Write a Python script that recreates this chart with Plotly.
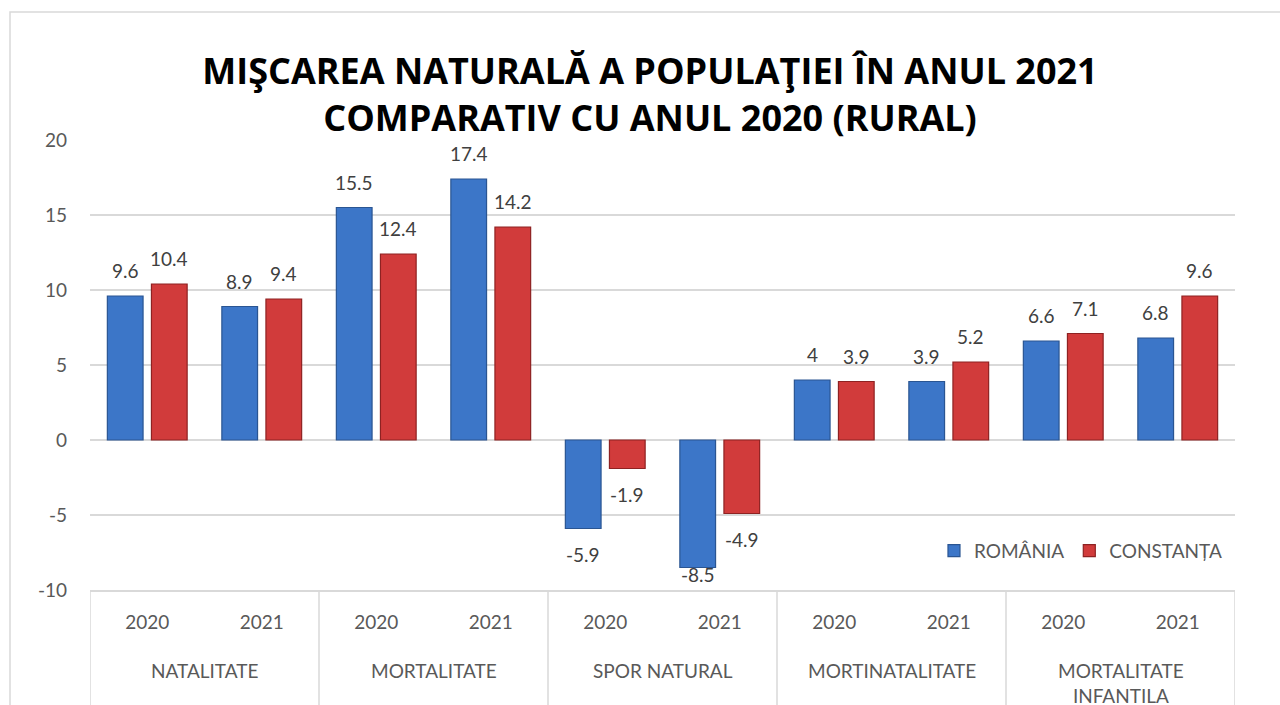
import plotly.graph_objects as go

categories = ["NATALITATE", "MORTALITATE", "SPOR NATURAL", "MORTINATALITATE", "MORTALITATE<br>INFANTILA"]
years = ["2020", "2021"]
romania = [9.6, 8.9, 15.5, 17.4, -5.9, -8.5, 4, 3.9, 6.6, 6.8]
constanta = [10.4, 9.4, 12.4, 14.2, -1.9, -4.9, 3.9, 5.2, 7.1, 9.6]
y_ticks = [-10, -5, 0, 5, 10, 15, 20]
y_tick_text = ["-10", "-5", "0", "5", "10", "15", "20"]

FONT = "Lato"
W, H = 1280, 705
ML, MR, MT, MB = 90, 45, 140, 115
YMIN, YMAX = -10, 20
BARGAP, GROUPGAP = 0.23, 0.19

n = len(categories) * len(years)
xpos = list(range(n))
xlabels = [years[i % len(years)] for i in xpos]

plot_w = W - ML - MR
plot_h = H - MT - MB
unit_px = plot_w / n
px_per_val = plot_h / (YMAX - YMIN)
trace_offset_px = (1 - BARGAP) / 4 * unit_px

fig = go.Figure()
series = [("ROMÂNIA", romania, "#3c76c8", "#2a5592", -1),
          ("CONSTANȚA", constanta, "#d13b3b", "#8e2222", 1)]
annotations = []
for name, vals, col, edge, side in series:
    fig.add_trace(go.Bar(
        x=xpos, y=vals, name=name,
        marker=dict(color=col, line=dict(color=edge, width=1.2)),
        hoverinfo="x+y",
    ))
    for i, v in zip(xpos, vals):
        if v >= 0:
            ann = dict(y=v, yanchor="bottom", yshift=12)
        else:
            bottom_px = (v - YMIN) * px_per_val
            if bottom_px - 15 - 22 < 0:
                ann = dict(y=YMIN, yanchor="bottom", yshift=2)
            else:
                ann = dict(y=v, yanchor="top", yshift=-12)
        ann.update(x=i, xref="x", yref="y", text=f"{v:g}", showarrow=False,
                   xshift=side * trace_offset_px,
                   font=dict(size=19, color="#404040", family=FONT))
        annotations.append(ann)

# category (second-level) labels and dividers
shapes = [dict(type="rect", xref="paper", yref="paper",
               x0=(10 - ML) / plot_w, x1=1.2, y0=-0.5, y1=(H - MB - 12) / plot_h,
               line=dict(color="#d9d9d9", width=1.5), fillcolor="rgba(0,0,0,0)", layer="below")]
ny = len(years)
for g, cat in enumerate(categories):
    annotations.append(dict(x=g * ny + (ny - 1) / 2, xref="x", y=-0.148, yref="paper",
                            yanchor="top", text=cat, showarrow=False,
                            font=dict(size=19, color="#595959", family=FONT)))
for g in range(len(categories) + 1):
    shapes.append(dict(type="line", xref="x", yref="paper",
                       x0=g * ny - 0.5, x1=g * ny - 0.5, y0=0, y1=-0.4,
                       line=dict(color="#d9d9d9", width=1.5)))

fig.update_layout(
    width=W, height=H,
    margin=dict(l=ML, r=MR, t=MT, b=MB),
    paper_bgcolor="white", plot_bgcolor="white",
    font=dict(family=FONT, color="#595959", size=19),
    title=dict(
        text="<b>MIŞCAREA NATURALĂ A POPULAŢIEI ÎN ANUL 2021<br>COMPARATIV CU ANUL 2020 (RURAL)</b>",
        x=650 / W, xref="container", xanchor="center",
        y=1 - 84 / H, yref="container", yanchor="middle",
        font=dict(size=36, color="#000000", family="Open Sans"),
    ),
    barmode="group", bargap=BARGAP, bargroupgap=GROUPGAP,
    showlegend=True,
    legend=dict(orientation="h", x=0.993, xanchor="right", y=0.087, yanchor="middle",
                font=dict(size=19, color="#595959", family=FONT),
                bgcolor="rgba(0,0,0,0)", traceorder="normal"),
    annotations=annotations,
    shapes=shapes,
)
fig.update_yaxes(range=[YMIN, YMAX], tickvals=y_ticks, ticktext=y_tick_text,
                 showgrid=True, gridcolor="#d9d9d9", gridwidth=1.5,
                 zeroline=False, showline=False, ticks="", ticklabelstandoff=22,
                 automargin=False, fixedrange=True,
                 tickfont=dict(size=19, color="#595959", family=FONT))
fig.update_xaxes(range=[-0.5, n - 0.5], tickvals=xpos, ticktext=xlabels,
                 showline=True, linecolor="#d9d9d9", linewidth=1.5, showgrid=False,
                 ticks="", ticklabelstandoff=14, automargin=False, fixedrange=True,
                 tickfont=dict(size=19, color="#595959", family=FONT))

fig.write_html("out.html", config={"displayModeBar": False},
               post_script="document.body.style.margin='0';document.body.style.overflow='hidden';")
